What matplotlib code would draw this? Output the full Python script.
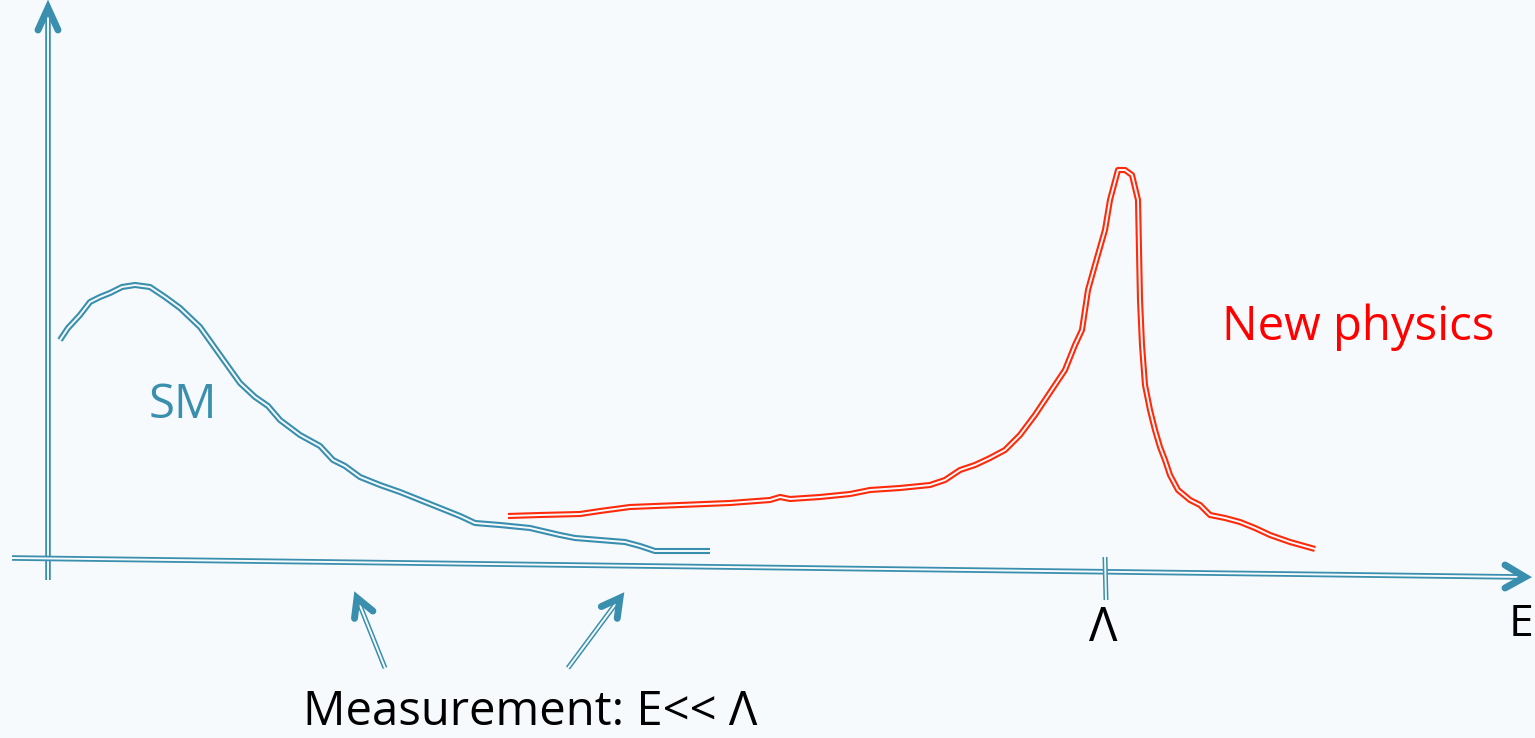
import matplotlib
matplotlib.use("Agg")
import matplotlib.pyplot as plt

# SM spectrum, hand-drawn (E, amplitude)
sm_E = [12, 20, 32, 42, 52, 62, 74, 87, 102, 117, 132, 152, 172, 192, 207, 220,
        232, 252, 272, 285, 297, 312, 332, 352, 372, 392, 412, 427, 452, 482,
        512, 527, 552, 577, 592, 607, 632, 662]
sm_y = [220, 232, 245, 258, 263, 267, 273, 275, 273, 263, 252, 233, 205, 177,
        163, 154, 140, 125, 114, 100, 94, 83, 75, 68, 60, 52, 44, 37, 35, 32,
        25, 22, 20, 18, 14, 9, 9, 9]

# New-physics resonance at Lambda
np_E = [460, 492, 532, 552, 582, 632, 682, 722, 732, 742, 772, 802, 822, 852,
        882, 897, 912, 927, 942, 957, 972, 987, 997, 1007, 1017, 1027, 1034,
        1040, 1047, 1057, 1062, 1066, 1070, 1077, 1084, 1090, 1092, 1094, 1097,
        1102, 1107, 1112, 1117, 1122, 1130, 1142, 1152, 1162, 1177, 1192, 1207,
        1222, 1242, 1267]
np_y = [44, 45, 46, 49, 53, 55, 57, 60, 63, 61, 63, 66, 70, 72, 75, 80, 90,
        95, 102, 110, 125, 145, 160, 175, 190, 215, 230, 270, 295, 330, 360,
        375, 390, 390, 385, 360, 260, 215, 175, 150, 130, 113, 100, 85, 70, 60,
        55, 45, 42, 38, 32, 25, 18, 11]

blue = "#3a8fae"
red = "#ff2a0a"
bg = "#f6fafc"

plt.rcParams['font.family'] = ['Open Sans', 'DejaVu Sans']

fig = plt.figure(figsize=(15.35, 7.38), dpi=100, facecolor=bg)
ax = fig.add_axes([0, 0, 1, 1])
ax.set_facecolor(bg)
ax.set_xlim(-48, 1487)
ax.set_ylim(-178, 560)
ax.axis('off')


def dline(x, y, c, w=4.4, gap=1.4):
    # double stroke: wide colour line with a thin background line inside
    ax.plot(x, y, color=c, lw=w, solid_capstyle='butt', solid_joinstyle='round')
    ax.plot(x, y, color=bg, lw=gap, solid_capstyle='butt', solid_joinstyle='round')


def chevron(tip, a, b, c):
    ax.plot([a[0], tip[0], b[0]], [a[1], tip[1], b[1]], color=c, lw=5,
            solid_capstyle='round', solid_joinstyle='miter')


# axes
dline([0, 0], [-20, 548], blue, w=4.0)
chevron((0, 552), (-10, 530), (10, 530), blue)
dline([-36, 1474], [2, -17], blue, w=4.0)
chevron((1477, -17), (1457, -5), (1457, -28), blue)

# Lambda tick
dline([1057, 1058], [3, -40], blue, w=3.6)

# curves
dline(sm_E, sm_y, blue)
dline(np_E, np_y, red)

# measurement arrows
for (x0, y0), (x1, y1) in [((337, -108), (309, -38)), ((520, -108), (572, -38))]:
    dline([x0, x1], [y0, y1], blue, w=3.6)
    dx, dy = x1 - x0, y1 - y0
    L = (dx ** 2 + dy ** 2) ** 0.5
    ux, uy = dx / L, dy / L
    s = 18
    a = (x1 - s * ux - 0.55 * s * uy, y1 - s * uy + 0.55 * s * ux)
    b = (x1 - s * ux + 0.55 * s * uy, y1 - s * uy - 0.55 * s * ux)
    chevron((x1, y1), a, b, blue)

# labels
ax.text(135, 155, "SM", color=blue, fontsize=34, ha='center', va='center')
ax.text(1310, 233, "New physics", color="#ff0000", fontsize=34, ha='center', va='center')
ax.text(1055, -68, "Λ", color='black', fontsize=34, ha='center', va='center')
ax.text(1461, -65, "E", color='black', fontsize=32, ha='left', va='center')
ax.text(482, -152, "Measurement: E<< Λ", color='black', fontsize=34,
        ha='center', va='center')

fig.savefig("out.png", dpi=100, facecolor=bg)
